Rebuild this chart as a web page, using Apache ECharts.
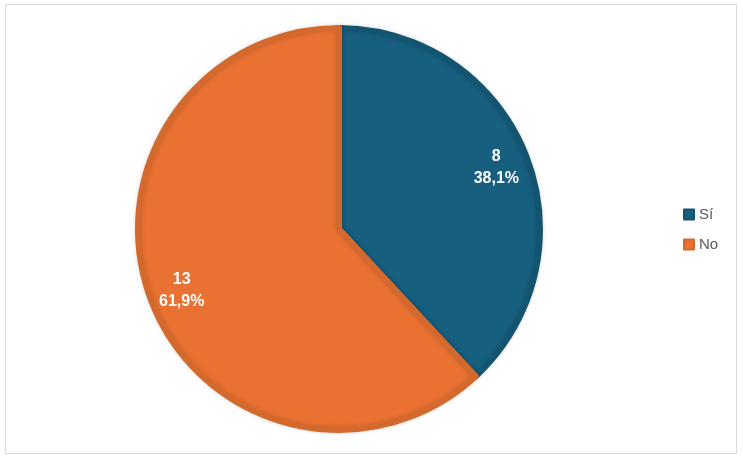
<!DOCTYPE html>
<html>
<head>
<meta charset="utf-8">
<script src="https://cdn.jsdelivr.net/npm/echarts@6/dist/echarts.min.js"></script>
<style>
  html, body { margin: 0; padding: 0; background: #fff; }
  #chart { width: 743px; height: 457px; }
</style>
</head>
<body>
<div id="chart"></div>
<script>
// respuestas
const categories = ['Sí', 'No'];
const values = [8, 13];
const colors = ['#175f7f', '#e97132'];
const edgeColors = ['#135571', '#d4692e'];

const total = values.reduce((a, b) => a + b, 0);
const pieData = categories.map((name, i) => ({
  name: name,
  value: values[i],
  itemStyle: { color: colors[i], borderColor: edgeColors[i] }
}));

const chart = echarts.init(document.getElementById('chart'));

chart.setOption({
  animation: false,
  graphic: [{
    type: 'rect',
    shape: { x: 5.5, y: 4.5, width: 731, height: 449 },
    style: { fill: 'none', stroke: '#d9d9d9', lineWidth: 1 },
    silent: true
  }],
  legend: {
    orient: 'vertical',
    left: 678,
    top: 202,
    itemWidth: 10,
    itemHeight: 10,
    itemGap: 15,
    icon: 'rect',
    textStyle: { color: '#595959', fontSize: 15, fontFamily: 'Liberation Sans, Arial, sans-serif' },
    data: categories
  },
  series: [
    {
      type: 'pie',
      center: [339, 229],
      radius: [0, 201],
      startAngle: 90,
      clockwise: true,
      label: { show: false },
      labelLine: { show: false },
      itemStyle: {
        borderWidth: 6,
        shadowBlur: 4,
        shadowColor: 'rgba(0,0,0,0.15)'
      },
      emphasis: { disabled: true },
      data: pieData
    },
    {
      // solo etiquetas
      type: 'pie',
      center: [339, 229],
      radius: [128, 204],
      startAngle: 90,
      silent: true,
      legendHoverLink: false,
      itemStyle: { color: 'rgba(0,0,0,0)' },
      label: {
        show: true,
        position: 'inside',
        color: '#fff',
        fontSize: 16,
        fontWeight: 'bold',
        lineHeight: 22,
        fontFamily: 'Liberation Sans, Arial, sans-serif',
        formatter: (p) => p.value + '\n' + (p.value / total * 100).toFixed(1).replace('.', ',') + '%'
      },
      labelLine: { show: false },
      emphasis: { disabled: true },
      tooltip: { show: false },
      data: categories.map((name, i) => ({ name: name, value: values[i] }))
    }
  ]
});
</script>
</body>
</html>
